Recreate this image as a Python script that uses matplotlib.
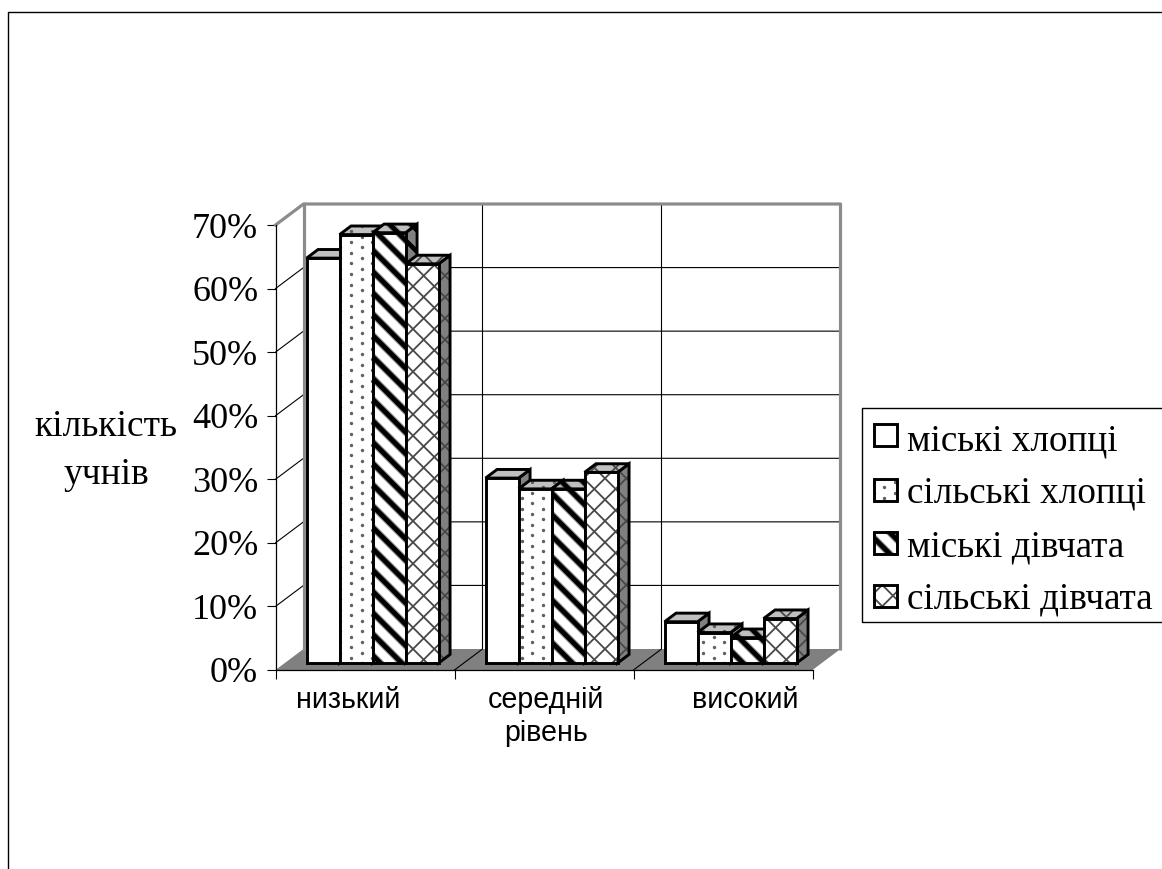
import matplotlib
matplotlib.use('Agg')
import matplotlib.pyplot as plt
from matplotlib.collections import LineCollection
from matplotlib.patches import Polygon, Rectangle
from matplotlib.ticker import PercentFormatter
import numpy as np

categories = ['низький', 'середній', 'високий']
series_names = ['міські хлопці', 'сільські хлопці', 'міські дівчата', 'сільські дівчата']
miski_khloptsi = [0.637, 0.291, 0.065]
silski_khloptsi = [0.674, 0.274, 0.048]
miski_divchata = [0.677, 0.274, 0.040]
silski_divchata = [0.628, 0.300, 0.070]
series = [miski_khloptsi, silski_khloptsi, miski_divchata, silski_divchata]
y_ticks = [0, 0.1, 0.2, 0.3, 0.4, 0.5, 0.6, 0.7]

W, H = 1162, 869
SERIF = 'Liberation Serif'
SANS = 'Liberation Sans'

fig = plt.figure(figsize=(W / 100, H / 100), dpi=100)

# page layer in pixel units, frame and legend live here
page = fig.add_axes([0, 0, 1, 1], zorder=0)
page.set_xlim(0, W)
page.set_ylim(H, 0)
page.axis('off')
page.plot([8, 8, W], [H, 12, 12], color='black', lw=1)

ax = fig.add_axes([275.5 / W, 1 - 670 / H, 537 / W, 445 / H], zorder=1)
ax.patch.set_visible(False)
ax.set_xlim(0, 3)
ax.set_ylim(0, 0.7)

# depth of the 3d box in data units
DX = 28 / (537 / 3)
DY = 21 / (445 / 0.7)
BAR_W = 33 / (537 / 3)
BAR_START = 0.122
D_FRONT, D_BACK = 0.33, 0.74
GREY = '#808080'
WALL = '#8c8c8c'
PITCH = 21.33


def clip_to(artist, poly):
    artist.set_clip_box(None)
    artist.set_clip_path(poly)


def stripes(poly):
    # wide diagonal bands, clipped to the face
    c = 112 + np.arange(-60, 60) * PITCH
    segs = [[(0, k), (1200, k + 1200)] for k in c]
    for color, lw in [('#8a8a8a', 5.0), ('black', 3.4)]:
        lc = LineCollection(segs, colors=color, linewidths=lw, transform=page.transData, zorder=poly.get_zorder())
        ax.add_collection(lc, autolim=False)
        clip_to(lc, poly)


def crosses(poly):
    segs = [[(0, k), (1200, k + 1200)] for k in 44 + np.arange(-60, 60) * PITCH]
    segs += [[(0, k), (1200, k - 1200)] for k in 870 + np.arange(-60, 100) * PITCH]
    lc = LineCollection(segs, colors='#484848', linewidths=1.3, transform=page.transData, zorder=poly.get_zorder())
    ax.add_collection(lc, autolim=False)
    clip_to(lc, poly)


def dots(poly):
    xs, ys = [], []
    step = PITCH / 2
    for m in range(-34, 100):
        for k in range(-60, 100):
            xs.append(351 + m * step)
            ys.append(444.7 + k * step + (m % 2) * step / 2)
    sc = ax.scatter(xs, ys, s=6, color='#606060', linewidths=0, transform=page.transData, zorder=poly.get_zorder())
    clip_to(sc, poly)


patterns = [None, dots, stripes, crosses]


def pr(x, v, d):
    return (x + d * DX, v + d * DY)


def face(pts, fill, pattern, z):
    poly = Polygon(pts, closed=True, facecolor=fill, edgecolor='none', zorder=z, clip_on=False)
    ax.add_patch(poly)
    if pattern is not None:
        pattern(poly)
    ax.add_patch(Polygon(pts, closed=True, fill=False, edgecolor='black', lw=2.1,
                         joinstyle='miter', zorder=z, clip_on=False))


# floor and walls
ax.add_patch(Polygon([pr(0, 0, 0), pr(3, 0, 0), pr(3, 0, 1), pr(0, 0, 1)], facecolor=GREY,
                     edgecolor='none', zorder=1, clip_on=False))
for t in y_ticks[1:-1]:
    ax.plot(*zip(pr(0, t, 0), pr(0, t, 1), pr(3, t, 1)), color='black', lw=0.8, zorder=1.5, clip_on=False)
for k in range(1, 3):
    ax.plot(*zip(pr(k, 0, 0), pr(k, 0, 1), pr(k, 0.7, 1)), color='black', lw=0.8, zorder=1.5, clip_on=False)
ax.plot(*zip(pr(0, 0.7, 0), pr(0, 0.7, 1), pr(3, 0.7, 1), pr(3, 0, 1)),
        color=WALL, lw=2.3, zorder=1.6, clip_on=False)
ax.plot(*zip(pr(0, 0, 1), pr(0, 0.7, 1)), color=WALL, lw=2.3, zorder=1.6, clip_on=False)

# bars, left to right so each one overlaps its neighbour's side
z = 2
for c in range(len(categories)):
    for s, vals in enumerate(series):
        v = vals[c]
        x0 = c + BAR_START + s * BAR_W
        x1 = x0 + BAR_W
        pat = patterns[s]
        face([pr(x1, 0, D_FRONT), pr(x1, 0, D_BACK), pr(x1, v, D_BACK), pr(x1, v, D_FRONT)], GREY, pat, z)
        face([pr(x0, v, D_FRONT), pr(x1, v, D_FRONT), pr(x1, v, D_BACK), pr(x0, v, D_BACK)], '#c0c0c0', pat, z + 0.1)
        face([pr(x0, 0, D_FRONT), pr(x1, 0, D_FRONT), pr(x1, v, D_FRONT), pr(x0, v, D_FRONT)], 'white', pat, z + 0.2)
        z += 1

for side in ['top', 'right']:
    ax.spines[side].set_visible(False)
for side in ['left', 'bottom']:
    ax.spines[side].set_linewidth(0.9)
ax.set_yticks(y_ticks)
ax.yaxis.set_major_formatter(PercentFormatter(1, decimals=0))
ax.tick_params(axis='y', length=6.5, width=0.8, pad=6, labelsize=26)
ax.set_xticks([0, 1, 2, 3])
ax.set_xticklabels([])
ax.tick_params(axis='x', length=6.5, width=0.8)
for lab in ax.get_yticklabels():
    lab.set_family(SERIF)

cat_px = [348, 546, 745]
for name, px in zip(categories, cat_px):
    page.text(px, 700, name, family=SANS, fontsize=20.6, ha='center', va='center')
page.text(546, 733, 'рівень', family=SANS, fontsize=20.6, ha='center', va='center')
page.text(106, 436, 'кількість', family=SERIF, fontsize=27, ha='center', va='baseline')
page.text(106, 484, 'учнів', family=SERIF, fontsize=27, ha='center', va='baseline')

# legend box runs off the right edge
page.plot([W, 862, 862, W], [622, 622, 408, 408], color='black', lw=1)
leg_y = [435, 490, 543, 596]
leg_base = [450, 503, 556, 608]
for name, y, base, pat in zip(series_names, leg_y, leg_base, patterns):
    sw = Polygon([(873, y - 12), (898, y - 12), (898, y + 12), (873, y + 12)], facecolor='white', edgecolor='none',
                 transform=page.transData, zorder=50, clip_on=False)
    ax.add_patch(sw)
    if pat is not None:
        pat(sw)
    ax.add_patch(Rectangle((874, y - 11), 23, 22, fill=False, edgecolor='black', lw=2.1,
                           transform=page.transData, zorder=51, clip_on=False))
    page.text(907, base, name, family=SERIF, fontsize=26.7, ha='left', va='baseline')

fig.savefig('out.png', dpi=100)
